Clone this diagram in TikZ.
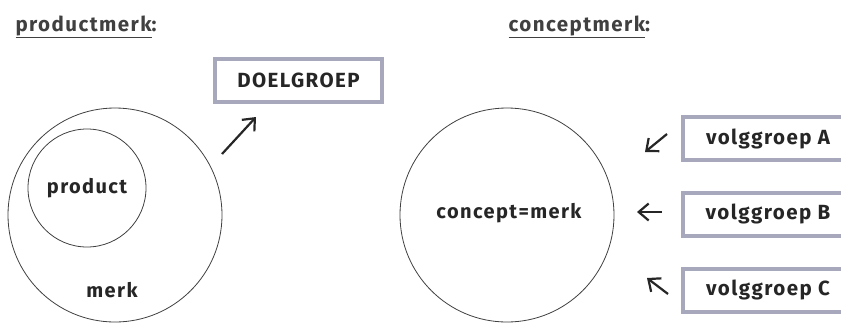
\documentclass[tikz,border=0pt]{standalone}
\usepackage{fontspec}
\setmainfont{Fira Sans}[LetterSpace=7]
\usetikzlibrary{arrows.meta}
\definecolor{boxgray}{RGB}{168,168,188}
\newcommand{\boxfont}{\bfseries\fontsize{20.5}{24}\selectfont}
\newcommand{\ringfont}{\bfseries\fontsize{20}{23}\selectfont}
\tikzset{
  lbl/.style={font=\ringfont, text=black!85},
  ttl/.style={font=\bfseries\fontsize{20.5}{22}\selectfont, text=black!75, anchor=base west},
  grp/.style={draw=boxgray, line width=4pt, fill=white, minimum height=43pt, inner sep=0pt, text=black!85, font=\boxfont},
  ring/.style={draw=black!75, line width=0.8pt, circle, inner sep=0pt},
  arr/.style={-{Straight Barb[length=10pt,width=17pt]}, line width=2.2pt, black!85}
}
\begin{document}
\begin{tikzpicture}[x=1pt,y=-1pt]
\clip (0,0) rectangle (841,325);
\fill[white] (0,0) rectangle (841,325);
% titles
\node[ttl] (t1) at (12,31) {\underline{productmerk}:};
\node[ttl] (t2) at (505,31) {\underline{conceptmerk}:};
% left
\node[ring, minimum size=214pt] (merk) at (115,215) {};
\node[ring, minimum size=118pt] (prod) at (87,188) {};
\node[lbl] (lprod) at (87,188) {product};
\node[lbl] (lmerk) at (112,290) {merk};
\node[grp, minimum width=167pt] (doel) at (298.5,80.5) {DOELGROEP};
\coordinate (a1s) at (222,154);
\coordinate (a1e) at (256,117);
\draw[arr] (a1s) -- (a1e);
% right
\node[ring, minimum size=214pt] (cm) at (507,215) {};
\node[lbl] (lcm) at (509,213) {concept=merk};
\node[grp, minimum width=170pt] (ga) at (768,138.5) {volggroep A};
\node[grp, minimum width=170pt] (gb) at (768,214) {volggroep B};
\node[grp, minimum width=170pt] (gc) at (768,290) {volggroep C};
\coordinate (aas) at (667,134);
\coordinate (aae) at (645,152);
\coordinate (abs) at (662,212);
\coordinate (abe) at (637,212);
\coordinate (acs) at (668,294);
\coordinate (ace) at (647,278);
\draw[arr] (aas) -- (aae);
\draw[arr] (abs) -- (abe);
\draw[arr] (acs) -- (ace);
\end{tikzpicture}
\end{document}
